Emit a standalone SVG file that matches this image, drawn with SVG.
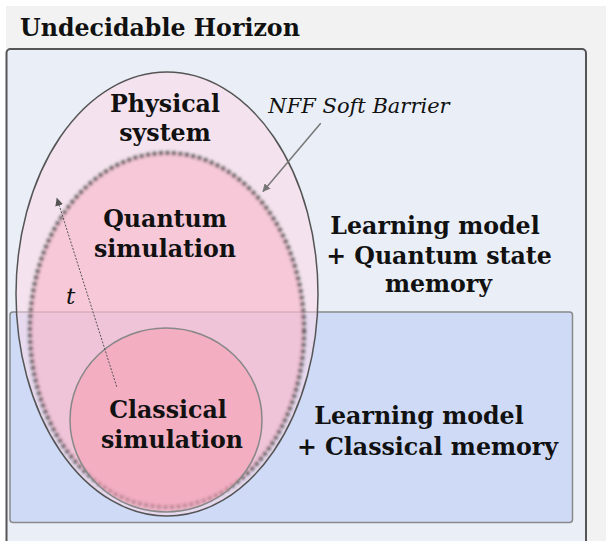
<svg xmlns="http://www.w3.org/2000/svg" width="606" height="541" viewBox="0 0 606 541">
<style>
.lbl{font-family:"DejaVu Serif","Liberation Serif",serif;font-weight:bold;font-size:23.7px;fill:#111;text-anchor:middle}
.it{font-family:"DejaVu Serif","Liberation Serif",serif;font-style:italic;font-size:21px;fill:#111}
</style>
<defs>
<filter id="soft" x="-10%" y="-10%" width="120%" height="120%"><feGaussianBlur stdDeviation="1.7"/></filter>
<marker id="ah" viewBox="0 0 10 10" refX="9" refY="5" markerWidth="8" markerHeight="8" orient="auto" markerUnits="userSpaceOnUse"><path d="M0,0 L10,5 L0,10 z" fill="#777"/></marker>
<marker id="ah2" viewBox="0 0 10 10" refX="9" refY="5" markerWidth="8" markerHeight="8" orient="auto" markerUnits="userSpaceOnUse"><path d="M0,0 L10,5 L0,10 z" fill="#555"/></marker>
</defs>
<rect x="0" y="0" width="606" height="541" fill="#ffffff"/>
<rect x="6" y="6" width="600" height="535" fill="#f2f2f2"/>
<g id="horizon">
<rect x="6.5" y="49" width="579.5" height="510" rx="4" fill="#e9eef7" stroke="#555" stroke-width="2"/>
<text x="20" y="36" class="lbl" style="text-anchor:start">Undecidable Horizon</text>
</g>
<g id="classical-memory">
<rect x="10" y="312" width="562.5" height="210.5" rx="3" fill="#cfdaf7" stroke="#8a8a8a" stroke-width="1.5"/>
</g>
<g id="physical">
<ellipse cx="167" cy="294" rx="151" ry="222" fill="#ffd8e6" fill-opacity="0.5" stroke="#555" stroke-width="1.5"/>
</g>
<g id="quantum">
<ellipse cx="167" cy="330" rx="137" ry="177" fill="#f8a8bc" fill-opacity="0.45" stroke="#555" stroke-width="4" stroke-dasharray="4 2.5" filter="url(#soft)"/>
</g>
<g id="classical">
<ellipse cx="166" cy="420" rx="96" ry="92" fill="#f5a0b4" fill-opacity="0.6" stroke="#888" stroke-width="1.5"/>
</g>
<g id="connectors">
<line x1="320.7" y1="123.3" x2="263" y2="191.5" stroke="#777" stroke-width="1.5" marker-end="url(#ah)"/>
<line x1="116.7" y1="386.7" x2="57" y2="198.5" stroke="#555" stroke-width="1" stroke-dasharray="2 1.5" marker-end="url(#ah2)"/>
</g>
<g id="labels">
<text class="lbl" x="165" y="111.5">Physical</text>
<text class="lbl" x="165" y="141">system</text>
<text class="lbl" x="165" y="226.5">Quantum</text>
<text class="lbl" x="165" y="256.5">simulation</text>
<text class="lbl" x="168" y="418">Classical</text>
<text class="lbl" x="172" y="448">simulation</text>
<text class="lbl" x="435" y="234">Learning model</text>
<text class="lbl" x="439" y="263.5">+ Quantum state</text>
<text class="lbl" x="438.5" y="292">memory</text>
<text class="lbl" x="419" y="423.5">Learning model</text>
<text class="lbl" x="427.5" y="455">+ Classical memory</text>
<text class="it" x="268.3" y="113.3">NFF Soft Barrier</text>
<text class="it" x="66" y="304" style="font-size:23px">t</text>
</g>
</svg>
